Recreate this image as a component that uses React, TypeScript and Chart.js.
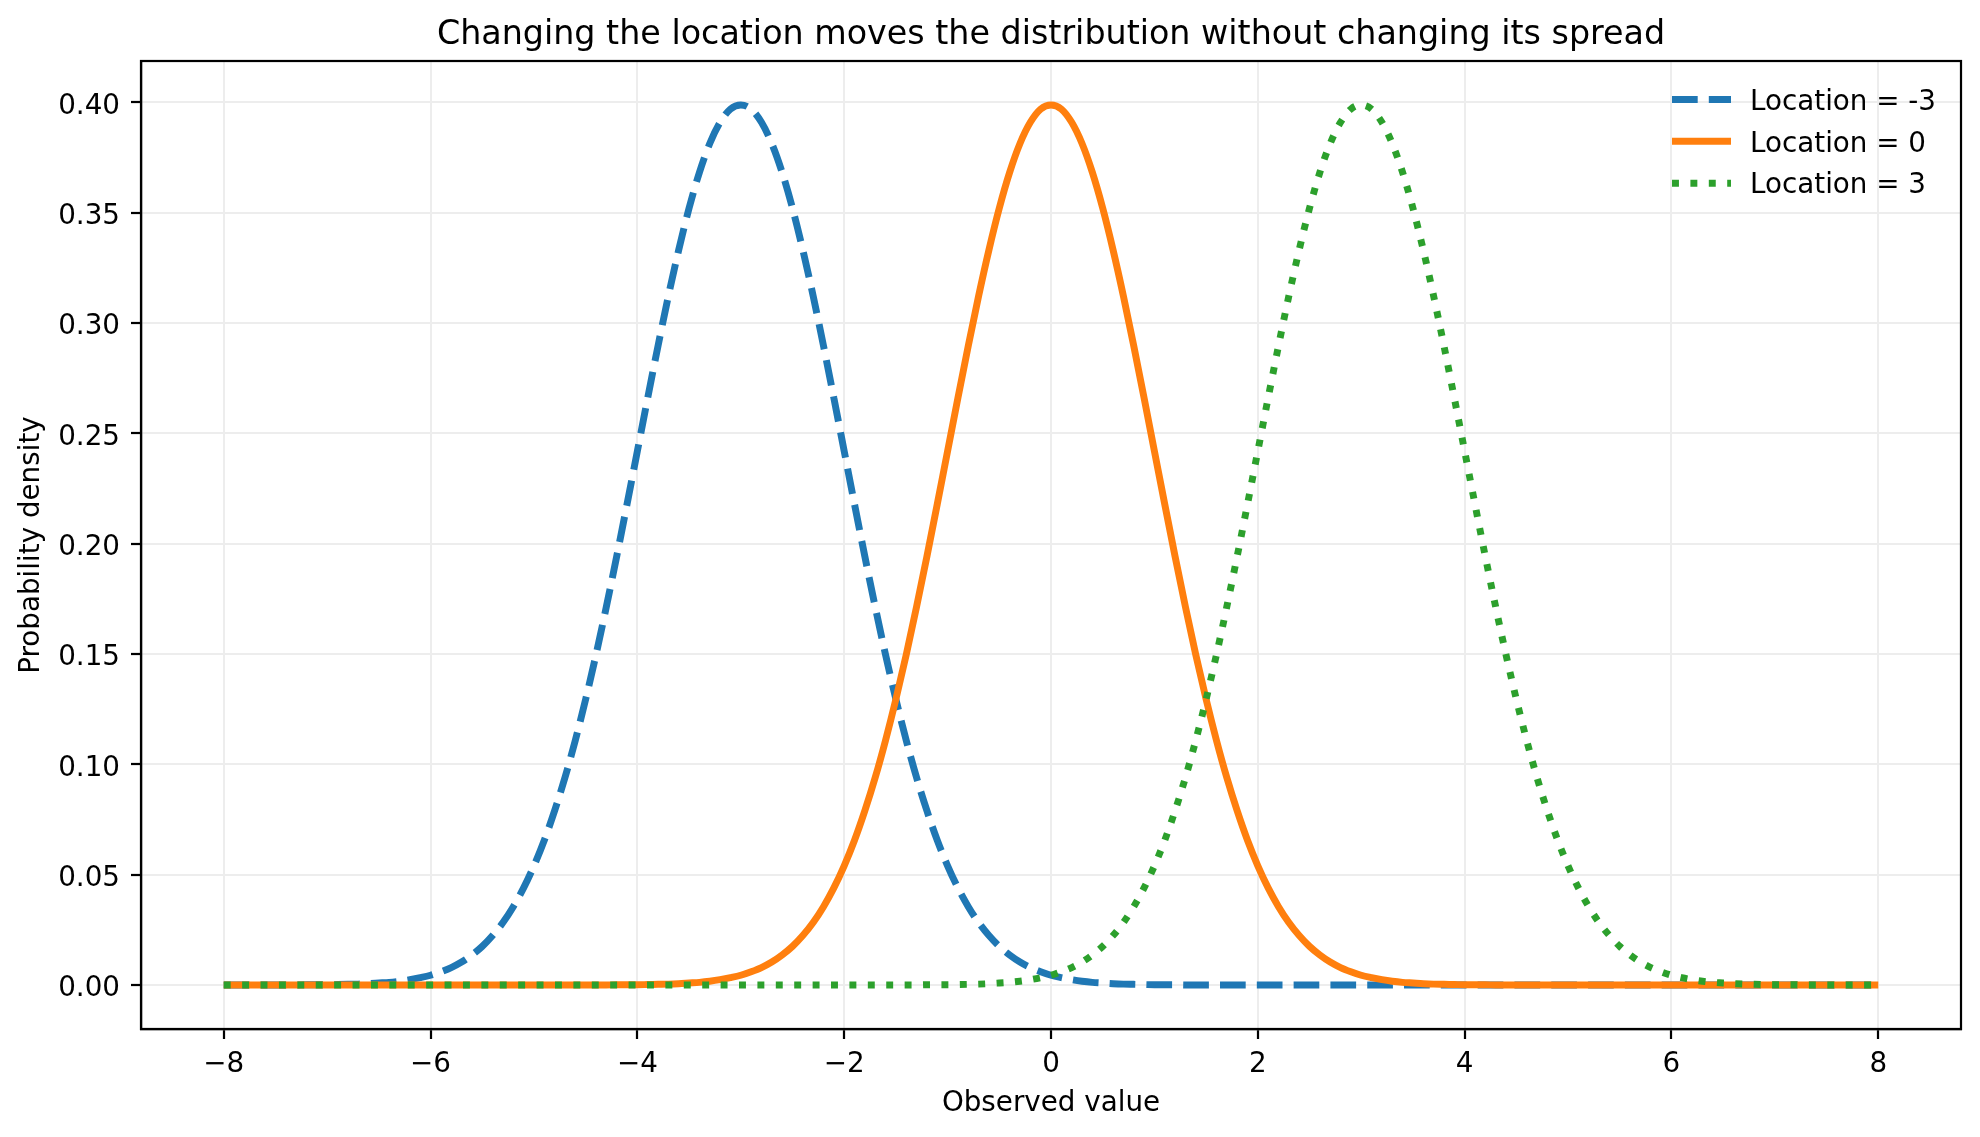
import React, { useEffect, useRef } from 'react';
import { Chart, registerables } from 'chart.js';

Chart.register(...registerables);

// ---------------- data ----------------
const X_VALUES = [
  -8.0, -7.9, -7.8, -7.7, -7.6, -7.5, -7.4, -7.3, -7.2, -7.1,
  -7.0, -6.9, -6.8, -6.7, -6.6, -6.5, -6.4, -6.3, -6.2, -6.1,
  -6.0, -5.9, -5.8, -5.7, -5.6, -5.5, -5.4, -5.3, -5.2, -5.1,
  -5.0, -4.9, -4.8, -4.7, -4.6, -4.5, -4.4, -4.3, -4.2, -4.1,
  -4.0, -3.9, -3.8, -3.7, -3.6, -3.5, -3.4, -3.3, -3.2, -3.1,
  -3.0, -2.9, -2.8, -2.7, -2.6, -2.5, -2.4, -2.3, -2.2, -2.1,
  -2.0, -1.9, -1.8, -1.7, -1.6, -1.5, -1.4, -1.3, -1.2, -1.1,
  -1.0, -0.9, -0.8, -0.7, -0.6, -0.5, -0.4, -0.3, -0.2, -0.1,
  0.0, 0.1, 0.2, 0.3, 0.4, 0.5, 0.6, 0.7, 0.8, 0.9,
  1.0, 1.1, 1.2, 1.3, 1.4, 1.5, 1.6, 1.7, 1.8, 1.9,
  2.0, 2.1, 2.2, 2.3, 2.4, 2.5, 2.6, 2.7, 2.8, 2.9,
  3.0, 3.1, 3.2, 3.3, 3.4, 3.5, 3.6, 3.7, 3.8, 3.9,
  4.0, 4.1, 4.2, 4.3, 4.4, 4.5, 4.6, 4.7, 4.8, 4.9,
  5.0, 5.1, 5.2, 5.3, 5.4, 5.5, 5.6, 5.7, 5.8, 5.9,
  6.0, 6.1, 6.2, 6.3, 6.4, 6.5, 6.6, 6.7, 6.8, 6.9,
  7.0, 7.1, 7.2, 7.3, 7.4, 7.5, 7.6, 7.7, 7.8, 7.9,
  8.0,
];

const LOC_NEG3 = [
  0, 0, 0, 0, 0, 0, 0, 0,
  0.0001, 0.0001, 0.0001, 0.0002, 0.0003, 0.0004, 0.0006, 0.0009, 0.0012, 0.0017,
  0.0024, 0.0033, 0.0044, 0.0060, 0.0079, 0.0104, 0.0136, 0.0175, 0.0224, 0.0283,
  0.0355, 0.0440, 0.0540, 0.0656, 0.0790, 0.0940, 0.1109, 0.1295, 0.1497, 0.1714,
  0.1942, 0.2179, 0.2420, 0.2661, 0.2897, 0.3123, 0.3332, 0.3521, 0.3683, 0.3814,
  0.3910, 0.3970, 0.3989,
  0.3970, 0.3910, 0.3814, 0.3683, 0.3521, 0.3332, 0.3123, 0.2897, 0.2661, 0.2420,
  0.2179, 0.1942, 0.1714, 0.1497, 0.1295, 0.1109, 0.0940, 0.0790, 0.0656, 0.0540,
  0.0440, 0.0355, 0.0283, 0.0224, 0.0175, 0.0136, 0.0104, 0.0079, 0.0060, 0.0044,
  0.0033, 0.0024, 0.0017, 0.0012, 0.0009, 0.0006, 0.0004, 0.0003, 0.0002, 0.0001,
  0.0001, 0.0001,
  0, 0, 0, 0, 0, 0, 0, 0, 0, 0,
  0, 0, 0, 0, 0, 0, 0, 0, 0, 0,
  0, 0, 0, 0, 0, 0, 0, 0, 0, 0,
  0, 0, 0, 0, 0, 0, 0, 0, 0, 0,
  0, 0, 0, 0, 0, 0, 0, 0, 0, 0,
  0, 0, 0, 0, 0, 0, 0, 0, 0, 0,
  0, 0, 0, 0, 0, 0, 0, 0,
];

const LOC_0 = [
  0, 0, 0, 0, 0, 0, 0, 0, 0, 0,
  0, 0, 0, 0, 0, 0, 0, 0, 0, 0,
  0, 0, 0, 0, 0, 0, 0, 0, 0, 0,
  0, 0, 0, 0, 0, 0, 0, 0,
  0.0001, 0.0001, 0.0001, 0.0002, 0.0003, 0.0004, 0.0006, 0.0009, 0.0012, 0.0017,
  0.0024, 0.0033, 0.0044, 0.0060, 0.0079, 0.0104, 0.0136, 0.0175, 0.0224, 0.0283,
  0.0355, 0.0440, 0.0540, 0.0656, 0.0790, 0.0940, 0.1109, 0.1295, 0.1497, 0.1714,
  0.1942, 0.2179, 0.2420, 0.2661, 0.2897, 0.3123, 0.3332, 0.3521, 0.3683, 0.3814,
  0.3910, 0.3970, 0.3989,
  0.3970, 0.3910, 0.3814, 0.3683, 0.3521, 0.3332, 0.3123, 0.2897, 0.2661, 0.2420,
  0.2179, 0.1942, 0.1714, 0.1497, 0.1295, 0.1109, 0.0940, 0.0790, 0.0656, 0.0540,
  0.0440, 0.0355, 0.0283, 0.0224, 0.0175, 0.0136, 0.0104, 0.0079, 0.0060, 0.0044,
  0.0033, 0.0024, 0.0017, 0.0012, 0.0009, 0.0006, 0.0004, 0.0003, 0.0002, 0.0001,
  0.0001, 0.0001,
  0, 0, 0, 0, 0, 0, 0, 0, 0, 0,
  0, 0, 0, 0, 0, 0, 0, 0, 0, 0,
  0, 0, 0, 0, 0, 0, 0, 0, 0, 0,
  0, 0, 0, 0, 0, 0, 0, 0,
];

const LOC_3 = [
  0, 0, 0, 0, 0, 0, 0, 0, 0, 0,
  0, 0, 0, 0, 0, 0, 0, 0, 0, 0,
  0, 0, 0, 0, 0, 0, 0, 0, 0, 0,
  0, 0, 0, 0, 0, 0, 0, 0, 0, 0,
  0, 0, 0, 0, 0, 0, 0, 0, 0, 0,
  0, 0, 0, 0, 0, 0, 0, 0, 0, 0,
  0, 0, 0, 0, 0, 0, 0, 0,
  0.0001, 0.0001, 0.0001, 0.0002, 0.0003, 0.0004, 0.0006, 0.0009, 0.0012, 0.0017,
  0.0024, 0.0033, 0.0044, 0.0060, 0.0079, 0.0104, 0.0136, 0.0175, 0.0224, 0.0283,
  0.0355, 0.0440, 0.0540, 0.0656, 0.0790, 0.0940, 0.1109, 0.1295, 0.1497, 0.1714,
  0.1942, 0.2179, 0.2420, 0.2661, 0.2897, 0.3123, 0.3332, 0.3521, 0.3683, 0.3814,
  0.3910, 0.3970, 0.3989,
  0.3970, 0.3910, 0.3814, 0.3683, 0.3521, 0.3332, 0.3123, 0.2897, 0.2661, 0.2420,
  0.2179, 0.1942, 0.1714, 0.1497, 0.1295, 0.1109, 0.0940, 0.0790, 0.0656, 0.0540,
  0.0440, 0.0355, 0.0283, 0.0224, 0.0175, 0.0136, 0.0104, 0.0079, 0.0060, 0.0044,
  0.0033, 0.0024, 0.0017, 0.0012, 0.0009, 0.0006, 0.0004, 0.0003, 0.0002, 0.0001,
  0.0001, 0.0001,
  0, 0, 0, 0, 0, 0, 0, 0,
];

const SERIES_LABELS = ['Location = -3', 'Location = 0', 'Location = 3'];
const X_TICKS = [-8, -6, -4, -2, 0, 2, 4, 6, 8];
const Y_TICKS = [0, 0.05, 0.1, 0.15, 0.2, 0.25, 0.3, 0.35, 0.4];
const TITLE = 'Changing the location moves the distribution without changing its spread';
const X_TITLE = 'Observed value';
const Y_TITLE = 'Probability density';

// ---------------- styling ----------------
const W = 1980;
const H = 1137;
const PT = 200 / 72;
const FONT = 'DejaVu Sans';
const LW = 2.5 * PT;
const SPINE = 0.8 * PT;
const TICK_FS = 10 * PT;
const COLORS = ['#1f77b4', '#ff7f0e', '#2ca02c'];
const DASHES = [
  [3.7 * LW, 1.6 * LW],
  [],
  [1 * LW, 1.65 * LW],
];
const GRID = '#ededed';

const framePlugin = {
  id: 'frameAndLegend',
  afterDatasetsDraw(chart: any) {
    const { ctx, chartArea } = chart;
    ctx.save();
    ctx.strokeStyle = '#000';
    ctx.lineWidth = SPINE;
    ctx.setLineDash([]);
    ctx.strokeRect(chartArea.left, chartArea.top, chartArea.right - chartArea.left, chartArea.bottom - chartArea.top);

    // legend (no frame), upper right
    const rowsLine = [99.5, 141.2, 183.2];
    const rowsText = [110, 151.8, 193.4];
    const x0 = 1672;
    const x1 = 1731;
    const tx = 1750;
    chart.data.datasets.forEach((ds: any, i: number) => {
      ctx.beginPath();
      ctx.setLineDash(ds.borderDash || []);
      ctx.lineDashOffset = 0;
      ctx.lineWidth = ds.borderWidth;
      ctx.strokeStyle = ds.borderColor;
      ctx.lineCap = 'butt';
      ctx.moveTo(x0, rowsLine[i]);
      ctx.lineTo(x1, rowsLine[i]);
      ctx.stroke();
      ctx.setLineDash([]);
      ctx.fillStyle = '#000';
      ctx.font = `${TICK_FS}px "${FONT}"`;
      ctx.textAlign = 'left';
      ctx.textBaseline = 'alphabetic';
      ctx.fillText(ds.label, tx, rowsText[i]);
    });
    ctx.restore();
  },
};

export default function App() {
  const ref = useRef<HTMLCanvasElement>(null);

  useEffect(() => {
    const canvas = ref.current;
    if (!canvas) return;
    Chart.defaults.font.family = FONT;
    Chart.defaults.color = '#000';

    const series = [LOC_NEG3, LOC_0, LOC_3];
    const datasets = series.map((ys, k) => ({
      label: SERIES_LABELS[k],
      data: X_VALUES.map((x, i) => ({ x, y: ys[i] })),
      borderColor: COLORS[k],
      backgroundColor: COLORS[k],
      borderWidth: LW,
      borderDash: DASHES[k],
      borderCapStyle: 'butt',
      borderJoinStyle: 'round',
      pointRadius: 0,
      pointHoverRadius: 0,
      fill: false,
      cubicInterpolationMode: 'monotone',
      order: 3 - k,
    }));

    const tickFont = { family: FONT, size: TICK_FS, lineHeight: 1.2 };

    const chart = new Chart(canvas, {
      type: 'line',
      data: { datasets: datasets as any },
      options: {
        animation: false,
        responsive: false,
        devicePixelRatio: 1,
        events: [],
        layout: { padding: { left: 0, right: 19, top: 0, bottom: 0 } },
        plugins: {
          legend: { display: false },
          tooltip: { enabled: false },
          title: {
            display: true,
            text: TITLE,
            fullSize: false,
            color: '#000',
            font: { family: FONT, size: 12 * PT, weight: 'normal', lineHeight: 1.2 },
            padding: { top: 15.1, bottom: 5.9 },
          },
        },
        scales: {
          x: {
            type: 'linear',
            min: -8.8,
            max: 8.8,
            afterBuildTicks: (s: any) => {
              s.ticks = X_TICKS.map((v) => ({ value: v }));
            },
            afterFit: (s: any) => {
              s.height = 108;
            },
            ticks: {
              font: tickFont,
              color: '#000',
              padding: 9,
              maxRotation: 0,
              autoSkip: false,
              callback: (v: any) => (Number(v) < 0 ? '\u2212' + Math.abs(Number(v)) : String(v)),
            },
            grid: {
              color: GRID,
              lineWidth: 2,
              tickColor: '#000',
              tickLength: 10,
              tickWidth: SPINE,
            },
            border: { display: true, color: '#000', width: SPINE },
            title: {
              display: true,
              text: X_TITLE,
              color: '#000',
              font: tickFont,
              padding: { top: 0, bottom: 16.3 },
            },
          },
          y: {
            type: 'linear',
            min: -0.01995,
            max: 0.4188,
            afterBuildTicks: (s: any) => {
              s.ticks = Y_TICKS.map((v) => ({ value: v }));
            },
            afterFit: (s: any) => {
              s.width = 141;
            },
            ticks: {
              font: tickFont,
              color: '#000',
              padding: 11,
              labelOffset: 4,
              autoSkip: false,
              callback: (v: any) => Number(v).toFixed(2),
            },
            grid: {
              color: GRID,
              lineWidth: 2,
              tickColor: '#000',
              tickLength: 10,
              tickWidth: SPINE,
            },
            border: { display: true, color: '#000', width: SPINE },
            title: {
              display: true,
              text: Y_TITLE,
              color: '#000',
              font: tickFont,
              padding: { top: 15.3, bottom: 0 },
            },
          },
        },
      } as any,
      plugins: [framePlugin],
    });

    return () => chart.destroy();
  }, []);

  return (
    <div style={{ position: 'fixed', left: 0, top: 0, width: W, height: H, background: '#fff' }}>
      <canvas ref={ref} width={W} height={H} style={{ display: 'block', width: W, height: H }} />
    </div>
  );
}
